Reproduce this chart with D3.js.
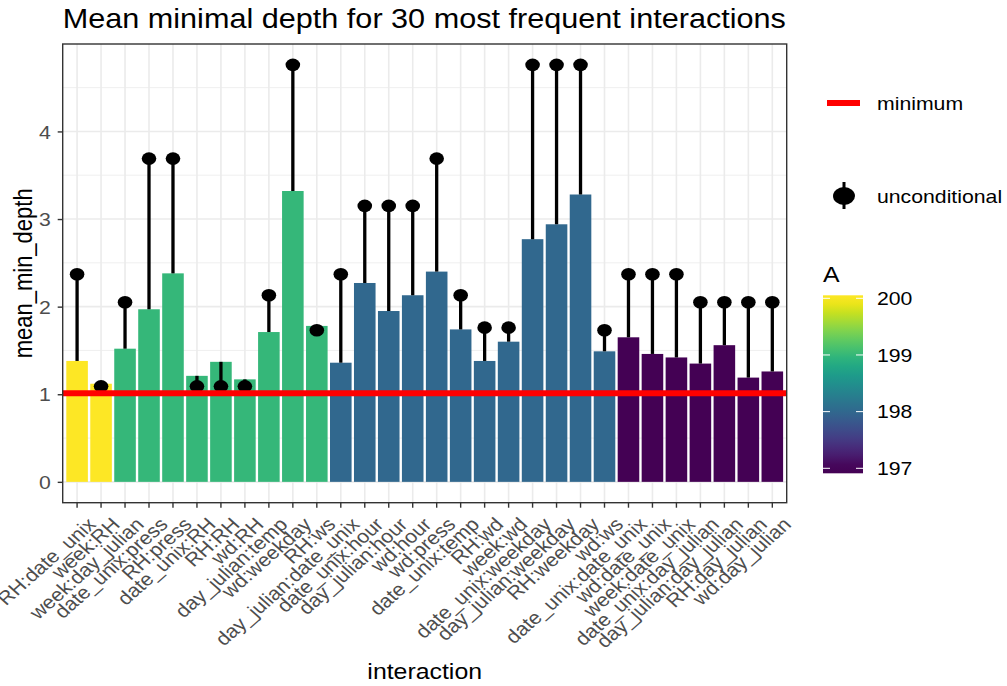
<!DOCTYPE html>
<html>
<head>
<meta charset="utf-8">
<script src="https://cdn.jsdelivr.net/npm/d3@7"></script>
<style>
  body { margin: 0; background: #fff; }
  svg { display: block; }
  text { font-family: "Liberation Sans", Arial, sans-serif; }
</style>
</head>
<body>
<svg id="chart" width="1007" height="686"></svg>
<script>
// data
const interactions = [
  "RH:date_unix", "week:RH", "week:day_julian", "date_unix:press", "RH:press",
  "date_unix:RH", "RH:RH", "wd:RH", "day_julian:temp", "wd:weekday", "RH:ws",
  "day_julian:date_unix", "date_unix:hour", "day_julian:hour", "wd:hour", "wd:press",
  "date_unix:temp", "RH:wd", "week:wd", "date_unix:weekday", "day_julian:weekday",
  "RH:weekday", "wd:ws", "date_unix:date_unix", "wd:date_unix", "week:date_unix",
  "date_unix:day_julian", "day_julian:day_julian", "RH:day_julian", "wd:day_julian"
];
const meanMinDepth = [
  1.38, 1.12, 1.52, 1.97, 2.38, 1.21, 1.37, 1.17, 1.71, 3.32, 1.78,
  1.36, 2.27, 1.95, 2.13, 2.40, 1.74, 1.38, 1.60, 2.77, 2.94, 3.28, 1.49,
  1.65, 1.46, 1.42, 1.35, 1.56, 1.19, 1.26
];
const uncondDepth = [
  2.37, 1.09, 2.05, 3.69, 3.69, 1.09, 1.09, 1.09, 2.13, 4.76, 1.73,
  2.37, 3.15, 3.15, 3.15, 3.69, 2.13, 1.76, 1.76, 4.76, 4.76, 4.76, 1.73,
  2.37, 2.37, 2.37, 2.05, 2.05, 2.05, 2.05
];
const occurrences = [
  200, 200, 199, 199, 199, 199, 199, 199, 199, 199, 199,
  198, 198, 198, 198, 198, 198, 198, 198, 198, 198, 198, 198,
  197, 197, 197, 197, 197, 197, 197
];
const minimumDepth = 1.01;
const yTicks = [0, 1, 2, 3, 4];
const yMinor = [0.5, 1.5, 2.5, 3.5, 4.5];
const legendTicks = [200, 199, 198, 197];

const rows = interactions.map((d, i) => ({
  name: d, depth: meanMinDepth[i], uncond: uncondDepth[i], occ: occurrences[i]
}));

// the picture is a bit wider than tall, so text gets a small horizontal stretch
const SX = 1.13;
const pLeft = 62.7, pRight = 786.7, pTop = 44, pBottom = 502.7;
const svg = d3.select("#chart");

const yMax = d3.max(uncondDepth);
const x = d3.scaleBand().domain(interactions).range([pLeft, pRight])
  .paddingInner(0.1).paddingOuter(0.15);
const y = d3.scaleLinear().domain([-0.05 * yMax, yMax * 1.05]).range([pBottom, pTop]);
const color = d3.scaleSequential(d3.interpolateViridis).domain([197, 200]);
const cx = d => x(d) + x.bandwidth() / 2;

function stretched(parent, px, py, extra) {
  return parent.append("g")
    .attr("transform", `translate(${px},${py}) scale(${SX},1)${extra || ""}`)
    .append("text");
}

// grid
const grid = svg.append("g");
grid.selectAll(".minor").data(yMinor).join("line")
  .attr("x1", pLeft).attr("x2", pRight)
  .attr("y1", d => y(d)).attr("y2", d => y(d))
  .attr("stroke", "#ebebeb").attr("stroke-width", 0.8);
grid.selectAll(".major").data(yTicks).join("line")
  .attr("x1", pLeft).attr("x2", pRight)
  .attr("y1", d => y(d)).attr("y2", d => y(d))
  .attr("stroke", "#ebebeb").attr("stroke-width", 1.6);
grid.selectAll(".vert").data(interactions).join("line")
  .attr("x1", cx).attr("x2", cx)
  .attr("y1", pTop).attr("y2", pBottom)
  .attr("stroke", "#ebebeb").attr("stroke-width", 1.6);

// bars
svg.append("g").selectAll("rect").data(rows).join("rect")
  .attr("x", d => x(d.name))
  .attr("width", x.bandwidth())
  .attr("y", d => y(d.depth))
  .attr("height", d => y(0) - y(d.depth))
  .attr("fill", d => color(d.occ));

// point ranges
const pr = svg.append("g");
pr.selectAll("line").data(rows).join("line")
  .attr("x1", d => cx(d.name)).attr("x2", d => cx(d.name))
  .attr("y1", d => y(Math.min(d.depth, d.uncond)))
  .attr("y2", d => y(Math.max(d.depth, d.uncond)))
  .attr("stroke", "#000").attr("stroke-width", 3.3);
pr.selectAll("ellipse").data(rows).join("ellipse")
  .attr("cx", d => cx(d.name)).attr("cy", d => y(d.uncond))
  .attr("rx", 7.3).attr("ry", 6.3)
  .attr("fill", "#000");

// minimum line
svg.append("line")
  .attr("x1", pLeft).attr("x2", pRight)
  .attr("y1", y(minimumDepth)).attr("y2", y(minimumDepth))
  .attr("stroke", "#ff0000").attr("stroke-width", 6);

// panel border
svg.append("rect")
  .attr("x", pLeft).attr("y", pTop)
  .attr("width", pRight - pLeft).attr("height", pBottom - pTop)
  .attr("fill", "none").attr("stroke", "#333").attr("stroke-width", 1.4);

// axes
const yAxis = svg.append("g").attr("transform", `translate(${pLeft},0)`)
  .call(d3.axisLeft(y).tickValues(yTicks).tickFormat(d3.format("d"))
    .tickSize(5).tickSizeOuter(0));
yAxis.select(".domain").remove();
yAxis.selectAll(".tick line").attr("stroke", "#333").attr("stroke-width", 1.4);
yAxis.selectAll(".tick text")
  .attr("x", null).attr("dy", "0.35em")
  .attr("transform", `translate(-12,0) scale(${SX},1)`)
  .attr("font-size", 18.8).attr("fill", "#4d4d4d")
  .attr("font-family", "Liberation Sans, Arial, sans-serif");

const xAxis = svg.append("g").attr("transform", `translate(0,${pBottom})`)
  .call(d3.axisBottom(x).tickSize(5).tickSizeOuter(0));
xAxis.select(".domain").remove();
xAxis.selectAll(".tick line").attr("stroke", "#333").attr("stroke-width", 1.4);
xAxis.selectAll(".tick text")
  .attr("y", null).attr("dy", null)
  .attr("text-anchor", "end")
  .attr("transform", `translate(20,23) scale(${SX},1) rotate(-45)`)
  .attr("font-size", 18.8).attr("fill", "#4d4d4d")
  .attr("font-family", "Liberation Sans, Arial, sans-serif");

// titles
stretched(svg, pLeft, 28).text("Mean minimal depth for 30 most frequent interactions")
  .attr("font-size", 27.1).attr("fill", "#000");
stretched(svg, (pLeft + pRight) / 2, 679).text("interaction")
  .attr("text-anchor", "middle").attr("font-size", 22).attr("fill", "#000");
stretched(svg, 32, (pTop + pBottom) / 2, " rotate(-90)").text("mean_min_depth")
  .attr("text-anchor", "middle").attr("font-size", 22).attr("fill", "#000");

// legend: minimum
const lg = svg.append("g");
lg.append("line").attr("x1", 827).attr("x2", 860).attr("y1", 103).attr("y2", 103)
  .attr("stroke", "#ff0000").attr("stroke-width", 6);
stretched(lg, 877, 103).text("minimum").attr("dy", "0.35em")
  .attr("font-size", 18.8).attr("fill", "#000");

// legend: unconditional
lg.append("line").attr("x1", 844).attr("x2", 844).attr("y1", 182).attr("y2", 209)
  .attr("stroke", "#000").attr("stroke-width", 3);
lg.append("ellipse").attr("cx", 844).attr("cy", 196).attr("rx", 11).attr("ry", 9)
  .attr("fill", "#000");
stretched(lg, 877, 196).text("unconditional").attr("dy", "0.35em")
  .attr("font-size", 18.8).attr("fill", "#000");

// legend: colour bar
stretched(lg, 823, 282).text("A").attr("font-size", 22).attr("fill", "#000");
const ly = d3.scaleLinear().domain([197, 200]).range([468.3, 298.3]);
const barTop = ly(200) - 3, barBot = ly(197) + 5;
const grad = svg.append("defs").append("linearGradient")
  .attr("id", "cbar").attr("x1", 0).attr("x2", 0).attr("y1", 0).attr("y2", 1);
d3.range(0, 1.0001, 0.05).forEach(t => {
  const v = ly.invert(barTop + t * (barBot - barTop));
  grad.append("stop").attr("offset", t)
    .attr("stop-color", color(Math.max(197, Math.min(200, v))));
});
lg.append("rect").attr("x", 823).attr("y", barTop)
  .attr("width", 40).attr("height", barBot - barTop)
  .attr("fill", "url(#cbar)");
legendTicks.forEach(v => {
  lg.append("line").attr("x1", 823).attr("x2", 830).attr("y1", ly(v)).attr("y2", ly(v))
    .attr("stroke", "#fff").attr("stroke-width", 1);
  lg.append("line").attr("x1", 856).attr("x2", 863).attr("y1", ly(v)).attr("y2", ly(v))
    .attr("stroke", "#fff").attr("stroke-width", 1);
  stretched(lg, 877, ly(v)).text(v).attr("dy", "0.35em")
    .attr("font-size", 18.8).attr("fill", "#000");
});
</script>
</body>
</html>
